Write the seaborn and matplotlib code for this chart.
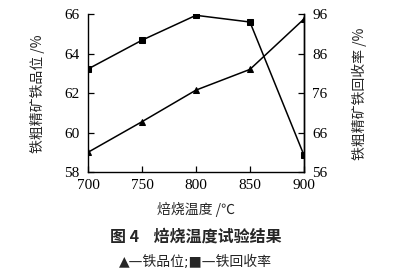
import matplotlib
matplotlib.use("Agg")
import matplotlib.pyplot as plt
import seaborn as sns
import pandas as pd

temps = [700, 750, 800, 850, 900]
grade = [59.0, 60.55, 62.15, 63.2, 65.75]
recovery = [82.1, 89.4, 95.7, 94.0, 60.3]
left_ticks = [58, 60, 62, 64, 66]
right_ticks = [56, 66, 76, 86, 96]
x_ticks = [700, 750, 800, 850, 900]

sns.set_theme(style="white")
plt.rcParams['font.family'] = ['Liberation Serif', 'Noto Sans CJK SC', 'DejaVu Sans']
cjk = ['Noto Sans CJK SC', 'DejaVu Sans']

df = pd.DataFrame({"temp": temps, "grade": grade, "recovery": recovery})

fig = plt.figure(figsize=(4.02, 2.77), dpi=100)
ax = fig.add_axes([0.219, 0.379, 0.537, 0.570])
ax2 = ax.twinx()

sns.lineplot(data=df, x="temp", y="grade", ax=ax, color="black", marker="^",
             markersize=4, linewidth=1.1, markeredgecolor="black")
sns.lineplot(data=df, x="temp", y="recovery", ax=ax2, color="black", marker="s",
             markersize=4, linewidth=1.1, markeredgecolor="black")

ax.set_xlim(700, 900)
ax.set_ylim(58, 66)
ax2.set_ylim(56, 96)
ax.set_xticks(x_ticks)
ax.set_yticks(left_ticks)
ax2.set_yticks(right_ticks)

for a in (ax, ax2):
    a.spines['top'].set_visible(False)
    for s in a.spines.values():
        s.set_color('black')
        s.set_linewidth(1.0)
    a.tick_params(direction='in', length=4, width=0.9, colors='black', labelsize=11)
    a.grid(False)
ax2.spines['left'].set_visible(False)
ax2.spines['bottom'].set_visible(False)
ax.tick_params(axis='y', left=True, right=False, pad=6)
ax.tick_params(axis='x', bottom=True, pad=5)
ax2.tick_params(axis='y', right=True, pad=6)

ax.set_xlabel("")
ax.set_ylabel("")
ax2.set_ylabel("")

fig.text(0.092, 0.66, "铁粗精矿铁品位 /%", rotation=90, ha='center', va='center',
         fontsize=10, family=cjk)
fig.text(0.895, 0.66, "铁粗精矿铁回收率 /%", rotation=90, ha='center', va='center',
         fontsize=10, family=cjk)
fig.text(0.487, 0.243, "焙烧温度 /℃", ha='center', va='center', fontsize=10, family=cjk)
fig.text(0.487, 0.145, "图 4    焙烧温度试验结果", ha='center', va='center',
         fontsize=11.5, fontweight='bold', family=cjk)
fig.text(0.487, 0.055, "▲—铁品位;■—铁回收率", ha='center', va='center',
         fontsize=10, family=['DejaVu Sans', 'Noto Sans CJK SC'])

fig.savefig("out.png", dpi=100, facecolor="white")
